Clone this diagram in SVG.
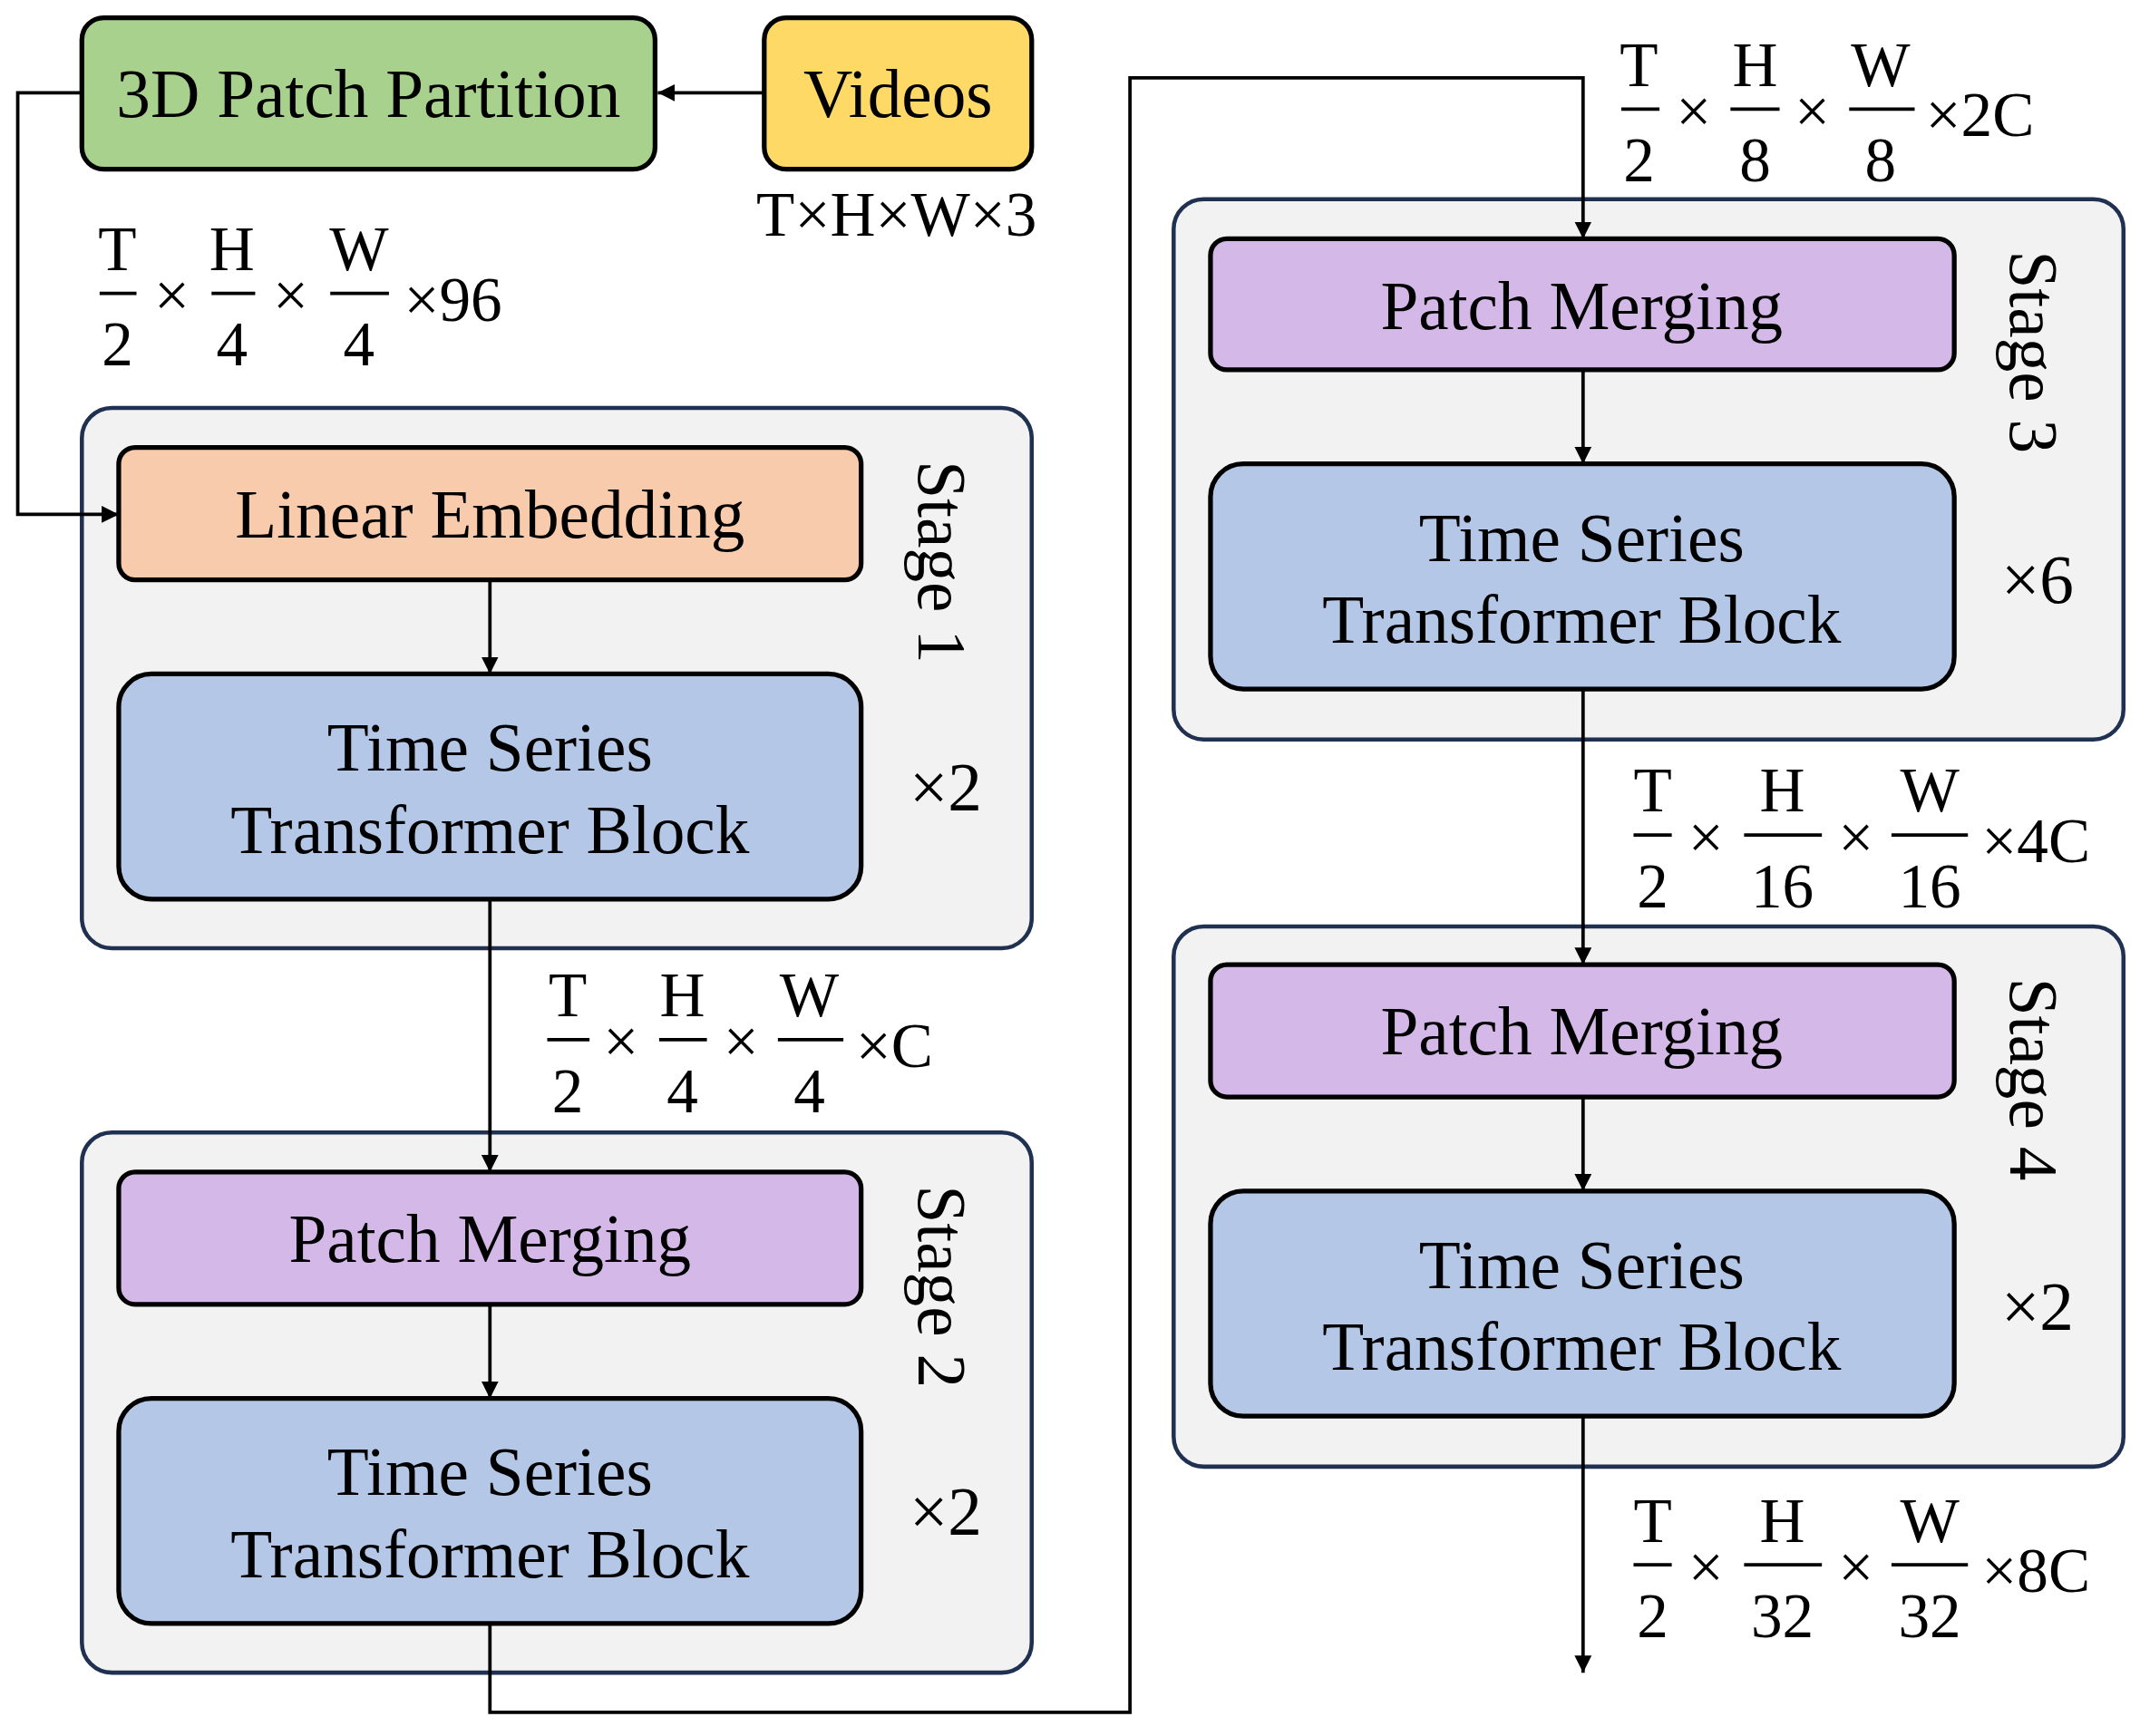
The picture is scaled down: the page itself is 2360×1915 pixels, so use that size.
<svg xmlns="http://www.w3.org/2000/svg" width="2360" height="1915" viewBox="0 0 2360 1915">
<style>
.t{font-family:"Liberation Serif",serif;font-size:50px;fill:#000;text-anchor:middle}
.f{font-family:"Liberation Serif",serif;font-size:46px;fill:#000;text-anchor:middle}
.fl{font-family:"Liberation Serif",serif;font-size:46px;fill:#000;text-anchor:start}
.n{stroke:#000;stroke-width:3.5}
.s{fill:#f2f2f2;stroke:#1f3050;stroke-width:3}
.c{fill:none;stroke:#000;stroke-width:2.5;marker-end:url(#a)}
.b{stroke:#000;stroke-width:2.5}
</style>
<defs><marker id="a" viewBox="0 0 10 10" refX="10" refY="5" markerWidth="5" markerHeight="5" orient="auto" markerUnits="strokeWidth"><path d="M0,0L10,5L0,10z" fill="#000"/></marker></defs>
<rect width="2360" height="1915" fill="#fff"/>
<g transform="scale(1.505)">
<g id="stage1"><rect class="s" x="60" y="299" width="696" height="396" rx="22"/><text class="t" transform="translate(690,412) rotate(90)" dy="17">Stage 1</text><text class="t" x="693" y="594">×2</text></g>
<g id="stage2"><rect class="s" x="60" y="830" width="696" height="396" rx="22"/><text class="t" transform="translate(690,943) rotate(90)" dy="17">Stage 2</text><text class="t" x="693" y="1125">×2</text></g>
<g id="stage3"><rect class="s" x="860" y="146" width="696" height="396" rx="22"/><text class="t" transform="translate(1490,258) rotate(90)" dy="17">Stage 3</text><text class="t" x="1493" y="442">×6</text></g>
<g id="stage4"><rect class="s" x="860" y="679" width="696" height="396" rx="22"/><text class="t" transform="translate(1490,791) rotate(90)" dy="17">Stage 4</text><text class="t" x="1493" y="975">×2</text></g>
<g id="partition"><rect class="n" x="60" y="13" width="420" height="111" rx="16" fill="#a9d18e"/><text class="t" x="270" y="86">3D Patch Partition</text></g>
<g id="videos"><rect class="n" x="560" y="13" width="196" height="111" rx="16" fill="#ffd966"/><text class="t" x="658" y="86">Videos</text><text class="f" x="657" y="173">T×H×W×3</text></g>
<g id="embed"><rect class="n" x="87" y="328" width="544" height="97" rx="12" fill="#f8cbad"/><text class="t" x="359" y="394">Linear Embedding</text></g>
<g id="tstb1"><rect class="n" x="87" y="494" width="544" height="165" rx="24" fill="#b4c7e7"/><text class="t" x="359" y="565">Time Series</text><text class="t" x="359" y="625">Transformer Block</text></g>
<g id="pm2"><rect class="n" x="87" y="859" width="544" height="97" rx="12" fill="#d4b8e8"/><text class="t" x="359" y="925">Patch Merging</text></g>
<g id="tstb2"><rect class="n" x="87" y="1025" width="544" height="165" rx="24" fill="#b4c7e7"/><text class="t" x="359" y="1096">Time Series</text><text class="t" x="359" y="1156">Transformer Block</text></g>
<g id="pm3"><rect class="n" x="887" y="175" width="545" height="96" rx="12" fill="#d4b8e8"/><text class="t" x="1159" y="241">Patch Merging</text></g>
<g id="tstb3"><rect class="n" x="887" y="340" width="545" height="165" rx="24" fill="#b4c7e7"/><text class="t" x="1159" y="411">Time Series</text><text class="t" x="1159" y="471">Transformer Block</text></g>
<g id="pm4"><rect class="n" x="887" y="707" width="545" height="97" rx="12" fill="#d4b8e8"/><text class="t" x="1159" y="773">Patch Merging</text></g>
<g id="tstb4"><rect class="n" x="887" y="873" width="545" height="165" rx="24" fill="#b4c7e7"/><text class="t" x="1159" y="944">Time Series</text><text class="t" x="1159" y="1004">Transformer Block</text></g>
<g id="connectors">
<path class="c" d="M560,68H482"/>
<path class="c" d="M60,68H13V377H87"/>
<path class="c" d="M359,425V494"/>
<path class="c" d="M359,659V859"/>
<path class="c" d="M359,956V1025"/>
<path class="c" d="M359,1190V1255H828V57H1160V175"/>
<path class="c" d="M1160,271V340"/>
<path class="c" d="M1160,505V707"/>
<path class="c" d="M1160,804V873"/>
<path class="c" d="M1160,1038V1226"/>
</g>
<g id="label1" transform="translate(0,163)"><text class="f" x="86" y="35">T</text><text class="f" x="170" y="35">H</text><text class="f" x="263" y="35">W</text><line class="b" x1="73" y1="52" x2="100" y2="52"/><line class="b" x1="155" y1="52" x2="187" y2="52"/><line class="b" x1="242" y1="52" x2="285" y2="52"/><text class="f" x="86" y="105">2</text><text class="f" x="170" y="105">4</text><text class="f" x="263" y="105">4</text><text class="f" x="126" y="69">×</text><text class="f" x="213" y="69">×</text><text class="fl" x="296" y="72">×96</text></g>
<g id="labelC" transform="translate(0,710)"><text class="f" x="416" y="35">T</text><text class="f" x="500" y="35">H</text><text class="f" x="593" y="35">W</text><line class="b" x1="401" y1="52" x2="432" y2="52"/><line class="b" x1="483" y1="52" x2="518" y2="52"/><line class="b" x1="570" y1="52" x2="618" y2="52"/><text class="f" x="416" y="105">2</text><text class="f" x="500" y="105">4</text><text class="f" x="593" y="105">4</text><text class="f" x="455" y="69">×</text><text class="f" x="543" y="69">×</text><text class="fl" x="627" y="72">×C</text></g>
<g id="label2C" transform="translate(0,28)"><text class="f" x="1201" y="35">T</text><text class="f" x="1286" y="35">H</text><text class="f" x="1378" y="35">W</text><line class="b" x1="1188" y1="52" x2="1216" y2="52"/><line class="b" x1="1268" y1="52" x2="1304" y2="52"/><line class="b" x1="1355" y1="52" x2="1403" y2="52"/><text class="f" x="1201" y="105">2</text><text class="f" x="1286" y="105">8</text><text class="f" x="1378" y="105">8</text><text class="f" x="1241" y="69">×</text><text class="f" x="1328" y="69">×</text><text class="fl" x="1411" y="72">×2C</text></g>
<g id="label4C" transform="translate(0,560)"><text class="f" x="1211" y="35">T</text><text class="f" x="1306" y="35">H</text><text class="f" x="1414" y="35">W</text><line class="b" x1="1197" y1="52" x2="1225" y2="52"/><line class="b" x1="1278" y1="52" x2="1335" y2="52"/><line class="b" x1="1386" y1="52" x2="1442" y2="52"/><text class="f" x="1211" y="105">2</text><text class="f" x="1306" y="105">16</text><text class="f" x="1414" y="105">16</text><text class="f" x="1250" y="69">×</text><text class="f" x="1360" y="69">×</text><text class="fl" x="1452" y="72">×4C</text></g>
<g id="label8C" transform="translate(0,1095)"><text class="f" x="1211" y="35">T</text><text class="f" x="1306" y="35">H</text><text class="f" x="1414" y="35">W</text><line class="b" x1="1197" y1="52" x2="1225" y2="52"/><line class="b" x1="1278" y1="52" x2="1335" y2="52"/><line class="b" x1="1386" y1="52" x2="1442" y2="52"/><text class="f" x="1211" y="105">2</text><text class="f" x="1306" y="105">32</text><text class="f" x="1414" y="105">32</text><text class="f" x="1250" y="69">×</text><text class="f" x="1360" y="69">×</text><text class="fl" x="1452" y="72">×8C</text></g>
</g>
</svg>
